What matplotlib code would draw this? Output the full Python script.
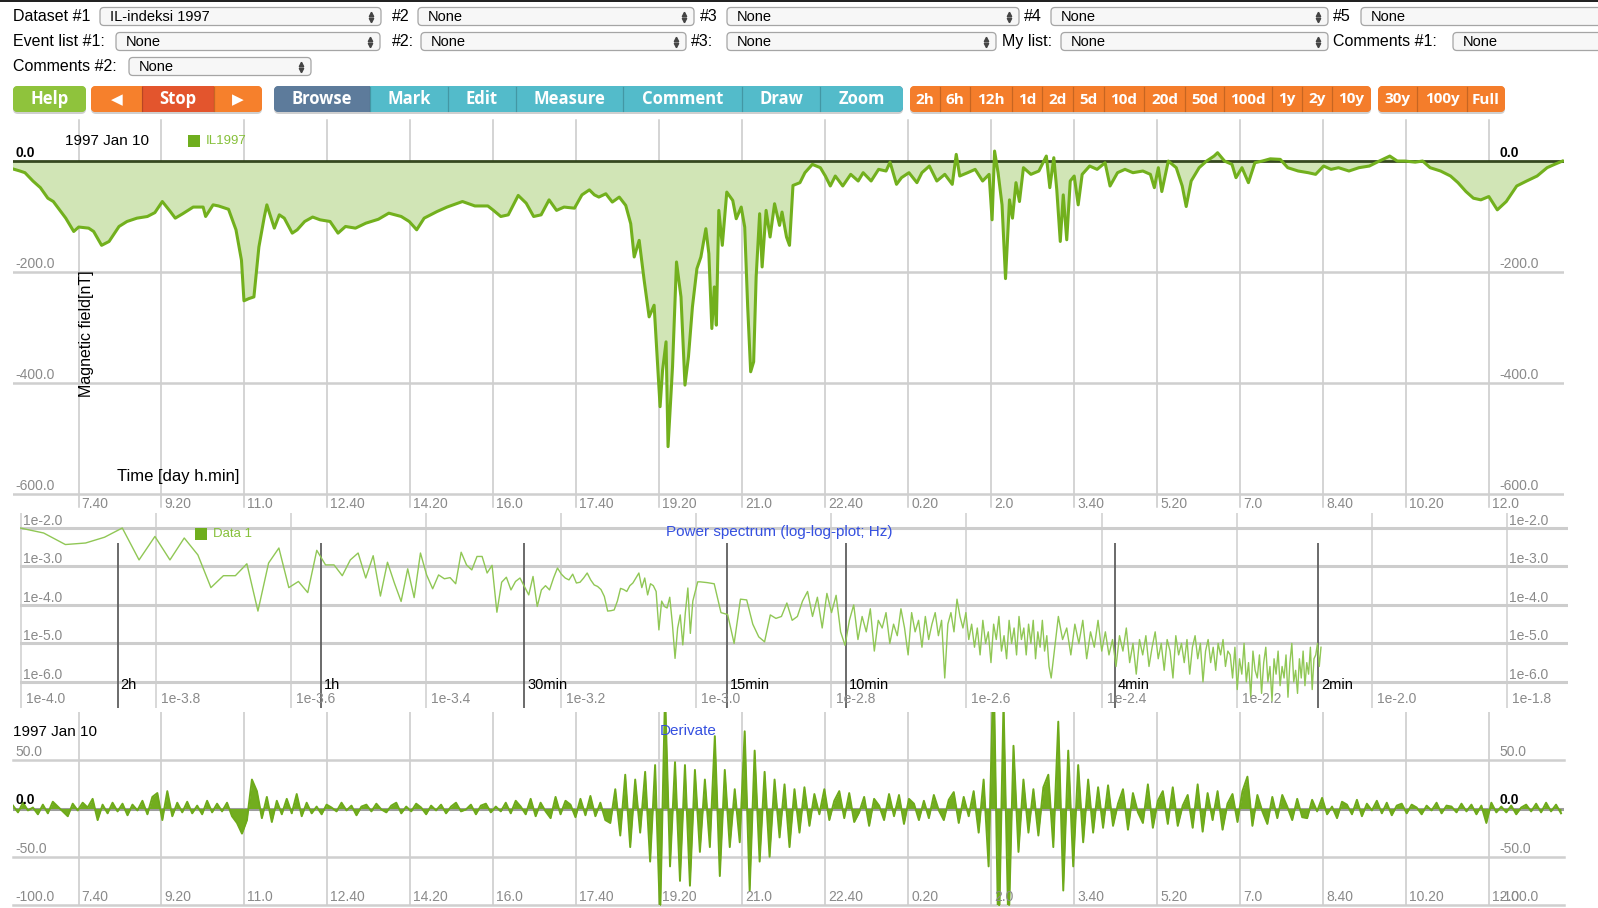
import numpy as np
import matplotlib.pyplot as plt
from matplotlib.patches import FancyBboxPatch, Rectangle

plt.rcParams['font.family'] = ['Liberation Sans', 'DejaVu Sans']

# ---- magnetic field (IL index), hours from 1997 Jan 10 00:00 ----
t_hours = [6.34, 6.49, 6.59, 6.75, 6.90, 7.05, 7.16, 7.26, 7.41, 7.57, 7.67, 7.87, 7.97, 8.13, 8.28,
           8.48, 8.64, 8.84, 9.05, 9.20, 9.35, 9.51, 9.61, 9.76, 9.97, 10.17, 10.22, 10.37, 10.48,
           10.68, 10.83, 10.94, 10.99, 11.09, 11.19, 11.29, 11.40, 11.45, 11.60, 11.70, 11.80, 11.96,
           12.06, 12.21, 12.37, 12.52, 12.72, 12.88, 13.03, 13.23, 13.44, 13.69, 13.90, 14.15, 14.31,
           14.46, 14.61, 14.87, 15.07, 15.38, 15.63, 15.89, 15.99, 16.15, 16.30, 16.50, 16.66, 16.81,
           16.96, 17.12, 17.27, 17.42, 17.63, 17.78, 17.93, 18.03, 18.12, 18.26, 18.39, 18.53, 18.66,
           18.76, 18.83, 18.93, 19.03, 19.13, 19.23, 19.35, 19.40, 19.47, 19.51, 19.60, 19.68, 19.77,
           19.85, 19.92, 20.00, 20.09, 20.17, 20.27, 20.33, 20.39, 20.44, 20.48, 20.53, 20.60, 20.69,
           20.81, 20.88, 20.98, 21.05, 21.11, 21.17, 21.23, 21.28, 21.35, 21.40, 21.48, 21.56, 21.65,
           21.75, 21.80, 21.89, 21.95, 22.02, 22.16, 22.26, 22.41, 22.57, 22.67, 22.77, 22.87, 23.02,
           23.18, 23.33, 23.43, 23.59, 23.74, 23.89, 23.97, 24.10, 24.20, 24.35, 24.51, 24.61, 24.76,
           24.91, 25.07, 25.22, 25.30, 25.37, 25.53, 25.68, 25.83, 25.96, 26.02, 26.07, 26.14, 26.22,
           26.29, 26.37, 26.43, 26.50, 26.57, 26.65, 26.80, 26.96, 27.11, 27.18, 27.26, 27.32, 27.39,
           27.45, 27.52, 27.59, 27.67, 27.75, 27.83, 27.98, 28.13, 28.29, 28.39, 28.54, 28.69, 28.85,
           29.05, 29.20, 29.28, 29.36, 29.43, 29.56, 29.72, 29.84, 29.92, 30.02, 30.18, 30.33, 30.48,
           30.55, 30.69, 30.84, 30.92, 31.04, 31.17, 31.30, 31.45, 31.61, 31.81, 31.96, 32.17, 32.37,
           32.52, 32.68, 32.83, 32.98, 33.19, 33.39, 33.60, 33.80, 34.01, 34.16, 34.31, 34.52, 34.67,
           34.82, 35.03, 35.23, 35.38, 35.54, 35.69, 35.84, 36.00, 36.17, 36.35, 36.56, 36.76, 36.97,
           37.17, 37.32, 37.48]
field_nt = [-14, -18, -21, -36, -48, -67, -73, -85, -103, -127, -119, -121, -127, -152, -145,
            -118, -109, -103, -100, -93, -73, -91, -103, -95, -83, -83, -100, -79, -81,
            -87, -124, -179, -252, -248, -245, -155, -100, -79, -121, -97, -103, -130,
            -124, -109, -101, -106, -109, -130, -118, -121, -112, -105, -94, -100, -109,
            -124, -103, -91, -83, -73, -81, -81, -88, -100, -97, -62, -76, -100,
            -97, -70, -89, -83, -85, -61, -52, -61, -65, -59, -74, -65, -80,
            -113, -173, -143, -215, -281, -260, -443, -377, -326, -515, -371, -182, -245,
            -404, -353, -263, -194, -173, -122, -167, -302, -227, -296, -89, -152, -56,
            -71, -104, -83, -119, -263, -380, -362, -209, -95, -191, -89, -137, -77,
            -116, -92, -137, -152, -44, -39, -21, -6, -12, -27, -45, -27, -45,
            -24, -36, -21, -36, -15, -18, -2, -42, -30, -21, -39, -21, -9,
            -36, -24, -42, 12, -27, -21, -15, -36, -24, -106, 18, -21, -79,
            -212, -70, -103, -39, -73, -12, -24, -18, 9, -48, 6, -52, -145,
            -61, -142, -36, -27, -79, -24, -9, -15, -3, -45, -21, -15, -21,
            -18, -24, -48, -12, -55, 0, -12, -45, -82, -36, -12, 0, 9,
            15, 0, -6, -30, -12, -39, -3, 0, 4, 3, -12, -18, -21,
            -24, -9, -15, -12, -18, -12, -9, 0, 9, 0, 0, -2, 0,
            -12, -18, -27, -39, -55, -67, -70, -64, -88, -73, -45, -36, -27,
            -12, -6, 0]

time_ticks = [7 + 40 / 60, 9 + 20 / 60, 11, 12 + 40 / 60, 14 + 20 / 60, 16, 17 + 40 / 60, 19 + 20 / 60,
              21, 22 + 40 / 60, 24 + 20 / 60, 26, 27 + 40 / 60, 29 + 20 / 60, 31, 32 + 40 / 60,
              34 + 20 / 60, 36]
time_labels = ['7.40', '9.20', '11.0', '12.40', '14.20', '16.0', '17.40', '19.20', '21.0', '22.40',
               '0.20', '2.0', '3.40', '5.20', '7.0', '8.40', '10.20', '12.0']

# ---- derivative, nT per sample, one sample every 0.1 h from 6.35 h ----
deriv_start = 6.35
deriv_step = 0.1
deriv_nt = [3, -4, 6, -2, 1, -6, 4, -5, 7, 2, -3, -8, 5, -2, 6, 1, 10, -12, 4, -5,
            6, -3, 5, -7, 4, -2, 8, -6, 12, 16, -12, 18, -8, 6, -4, 7, -5, 3, -6, 8,
            -4, 5, -3, 6, -8, -15, -26, -12, 30, 18, -10, 12, -14, 8, -6, 10, -5, 15, -8, 6,
            -5, 2, -6, 4, 1, -3, 6, -2, 3, -7, 2, 4, -3, 5, -1, -4, 3, 6, -5, 2,
            -3, 5, 1, -6, 3, -2, 4, -5, 2, 6, -3, -1, 4, -6, 3, 5, -4, 2, -3, 6,
            -5, 8, 2, -6, 10, -8, 6, -3, -10, 12, -6, 8, 4, -9, 10, -7, 13, -8, 6, -12,
            -15, 20, -28, 35, -40, 30, -25, 38, -55, 45, -115, 120, -60, 48, -75, 45, -80, 40, -45, 30,
            -40, 75, -70, 40, -40, 20, -35, 80, -85, 60, -55, 38, -50, 30, -30, 25, -40, 20, -25, 22,
            -18, 15, -6, 20, -12, 8, 18, -10, 16, -14, -4, 12, -18, 10, 3, -12, 15, -8, 14, -16,
            10, 5, -12, 8, -10, 14, -2, -12, 9, 17, -15, 12, -8, 18, -25, 30, -60, 150, -150, 110,
            -130, 65, -45, 30, -25, 20, -28, 22, 35, -40, 90, -85, 60, -60, 45, -35, 30, -25, 22, -20,
            24, -18, 5, 20, -22, 16, -4, -15, 25, -20, 8, 18, -16, 22, -18, 3, 14, -20, 25, -24,
            16, -12, 18, -22, 5, 15, -14, 18, 33, -18, 14, -3, -16, 12, -10, 14, 2, -12, 10, -9,
            -10, 9, -3, 11, -6, 2, -10, 7, 4, -6, 9, -8, 5, -2, 8, -5, 6, -7, 3, 5,
            -5, 4, 1, -6, 3, -2, 6, -5, 3, 2, -4, 5, -3, 4, -6, 3, -15, 6, -4, 2,
            -4, 3, -6, 1, 4, -3, 5, -4, 6, -3, 4, -5]

# ---- power spectrum: log10 power per FFT bin ----
spec_df = 8.3e-6            # Hz per bin
low_first_bin, low_step = 12, 1
psd_low = [-2.00, -2.13, -2.43, -2.39, -2.24, -2.00, -2.83, -2.22, -2.83, -2.26,
           -2.70, -3.55, -3.24, -3.24, -2.93, -4.16, -2.91, -2.52, -3.55, -3.39,
           -3.68, -2.58, -2.96, -2.96, -3.24, -2.83, -2.65, -3.30, -2.72, -3.77,
           -2.89, -3.43, -3.91, -3.06, -3.81, -2.65, -3.22, -3.58, -3.22, -3.32,
           -3.29, -3.45, -2.63, -2.96, -3.09, -2.74, -2.74, -3.17, -2.97, -4.19,
           -3.41, -3.28, -3.61, -3.39, -3.30, -3.52, -3.74, -3.26, -4.04, -3.61,
           -3.50, -3.61, -3.30, -3.04, -3.20, -3.30, -3.35, -3.20, -3.43, -3.41,
           -3.30, -3.17, -3.35, -3.48, -3.52, -3.60, -3.78, -4.16, -4.15, -4.13,
           -3.90, -3.57, -3.60, -3.65, -3.50, -3.43, -3.30, -3.17,
           -3.55, -3.30, -3.74, -3.45, -3.50, -3.65, -4.65, -3.90, -4.04, -4.08,
           -3.80, -4.50, -5.39, -4.60, -4.26, -5.04, -4.20, -3.56, -4.74, -3.90, -3.65, -3.40]
mid_first_bin, mid_step = 122, 3
psd_mid = [-3.40, -3.42, -3.45, -4.20, -4.25, -5.00, -3.85, -3.87, -4.50, -4.83, -4.96, -4.26,
           -4.35, -4.30, -3.95, -4.40, -4.30,
           -3.90, -3.65, -4.30, -3.80, -4.60, -3.70, -4.20, -3.75, -4.70, -5.05,
           -4.4, -4.0, -4.9, -4.3, -4.7, -4.1, -5.2, -4.4, -4.6, -4.2, -5.0, -4.5, -4.8, -4.1, -4.6,
           -5.3, -4.2, -4.7, -4.4, -5.1, -4.3, -4.9, -4.5, -4.2, -4.8, -4.4, -5.9, -4.5, -4.2, -4.7,
           -3.85, -4.3, -4.6, -4.2, -4.9,
           -4.5, -5.1, -4.6, -5.3, -4.4, -5.0, -4.7, -5.5, -4.5, -4.9, -4.3, -5.2, -4.8, -5.4, -4.4,
           -5.0, -4.6, -5.3, -4.3, -4.9, -4.6, -5.3, -4.5, -5.0, -4.4, -5.4, -4.7, -5.1, -4.4, -5.2,
           -4.8, -5.6, -5.9]
high_first_bin, high_step = 414, 6
psd_high = [-4.3, -4.9, -4.6, -5.3, -4.5, -5.0, -4.4, -5.4, -4.7, -5.1, -4.4, -5.2,
            -4.7, -5.3, -4.9, -5.6, -4.8, -5.2, -4.6, -5.5, -5.0, -5.8, -4.9, -5.3, -4.8, -5.6, -5.1,
            -4.7, -5.4, -5.0, -5.7, -4.9, -5.2, -5.9, -4.8, -5.3, -5.0, -5.5, -4.9, -5.8, -5.1, -4.8,
            -5.4, -5.0, -6.0, -5.2, -4.9, -5.5, -5.1, -5.7, -5.0, -5.3, -4.9, -5.6, -5.2,
            -5.3, -5.9, -5.1, -6.2, -5.4, -5.8, -5.0, -6.0, -5.5, -6.4, -5.2, -5.7, -5.9, -5.3, -6.3,
            -5.5, -5.1, -6.0, -5.6, -6.5, -5.4, -5.8, -5.2, -6.1, -5.6, -5.9, -5.3, -6.4, -5.5, -5.0,
            -6.0, -5.7, -6.3, -5.4, -5.9, -5.2, -6.1, -5.5, -5.8, -5.1, -6.2, -5.4, -5.3, -5.0, -5.6,
            -5.1]

period_labels = ['2h', '1h', '30min', '15min', '10min', '4min', '2min']
period_seconds = [7200, 3600, 1800, 900, 600, 240, 120]
spec_xexp = [-4.0, -3.8, -3.6, -3.4, -3.2, -3.0, -2.8, -2.6, -2.4, -2.2, -2.0, -1.8]
spec_yexp = [-2.0, -3.0, -4.0, -5.0, -6.0]

W, H = 1598, 908
fig = plt.figure(figsize=(W / 100, H / 100), dpi=100)
fig.patch.set_facecolor('white')

GRAY_TXT = '#8a8a8a'
GRID = '#c9c9c9'


def px_axes(x0, y0, x1, y1):
    a = fig.add_axes([x0 / W, 1 - y1 / H, (x1 - x0) / W, (y1 - y0) / H])
    for s in a.spines.values():
        s.set_visible(False)
    a.set_xticks([])
    a.set_yticks([])
    a.patch.set_alpha(0)
    return a


def ylabel_pair(a, val, text, xright, bold=False, dy=1):
    kw = dict(fontsize=10, va='bottom', ha='left',
              color='black' if bold else GRAY_TXT, fontweight='bold' if bold else 'normal')
    a.annotate(text, (0, val), xycoords=('axes fraction', 'data'), xytext=(2, dy),
               textcoords='offset pixels', **kw)
    a.annotate(text, (xright, val), xycoords='data', xytext=(11, dy),
               textcoords='offset pixels', **kw)


# ---------------- main magnetic field panel ----------------
xlim = (6.35, 37.51)
ax = px_axes(13, 120, 1564, 496)
ax.set_xlim(*xlim)
ax.set_ylim(-604, 74)
for t in time_ticks:
    ax.axvline(t, ymin=-0.03, ymax=1, color=GRID, lw=1.1, clip_on=False, zorder=0)
for y in [-200, -400, -600]:
    ax.axhline(y, color='#cfcfcf', lw=1.8, zorder=0)
ax.fill_between(t_hours, field_nt, 0, color='#d1e5b6', lw=0, zorder=1)
ax.axhline(0, color='#35481f', lw=2, zorder=2)
ax.plot(t_hours, field_nt, color='#72b01d', lw=2.2, zorder=3)
for t, lbl in zip(time_ticks, time_labels):
    ax.annotate(lbl, (t, 0), xycoords=('data', 'axes fraction'), xytext=(3, -1),
                textcoords='offset pixels', va='top', ha='left', fontsize=10, color=GRAY_TXT)
for val, txt in [(0, '0.0'), (-200, '-200.0'), (-400, '-400.0'), (-600, '-600.0')]:
    ylabel_pair(ax, val, txt, time_ticks[-1], bold=(val == 0))

# ---------------- power spectrum panel ----------------
freq = np.concatenate([(low_first_bin + low_step * np.arange(len(psd_low))) * spec_df,
                       (mid_first_bin + mid_step * np.arange(len(psd_mid))) * spec_df,
                       (high_first_bin + high_step * np.arange(len(psd_high))) * spec_df])
power = 10.0 ** np.array(psd_low + psd_mid + psd_high)

sx = px_axes(20, 513, 1568, 708)
sx.set_xscale('log')
sx.set_yscale('log')
sx.set_xlim(10 ** -4.002, 10 ** -1.709)
sx.set_ylim(10 ** -6.68, 10 ** -1.61)
sx.minorticks_off()
sx.set_xticks([])
sx.set_yticks([])
for e in spec_xexp:
    sx.axvline(10 ** e, color='#d2d2d2', lw=1.2, zorder=0)
    sx.annotate('1e%.1f' % e, (10 ** e, 0), xycoords=('data', 'axes fraction'), xytext=(5, 9),
                textcoords='offset pixels', va='center', ha='left', fontsize=10, color=GRAY_TXT)
for e in spec_yexp:
    sx.axhline(10 ** e, color='#cdcdcd', lw=2.2, zorder=0)
    sx.annotate('1e%.1f' % e, (0, 10 ** e), xycoords=('axes fraction', 'data'), xytext=(3, 0),
                textcoords='offset pixels', va='bottom', ha='left', fontsize=10, color=GRAY_TXT)
    sx.annotate('1e%.1f' % e, (0.962, 10 ** e), xycoords=('axes fraction', 'data'), xytext=(0, 0),
                textcoords='offset pixels', va='bottom', ha='left', fontsize=10, color=GRAY_TXT)
for lbl, sec in zip(period_labels, period_seconds):
    f = 1.0 / sec
    sx.vlines(f, 10 ** -6.68, 10 ** -2.39, color='#5f5f5f', lw=1.3, zorder=1)
    sx.annotate(lbl, (f, 10 ** -6.08), xycoords='data', xytext=(3, 0), textcoords='offset pixels',
                va='center', ha='left', fontsize=10.5, color='black')
sx.plot(freq, power, color='#90c755', lw=1.0, zorder=2)

# ---------------- derivative panel ----------------
deriv_t = deriv_start + deriv_step * np.arange(len(deriv_nt))
dx = px_axes(13, 712, 1564, 905)
dx.set_xlim(*xlim)
dx.set_ylim(-100, 100)
for t in time_ticks:
    dx.axvline(t, color=GRID, lw=1.1, zorder=0)
for y in [50, -50, -100]:
    dx.axhline(y, color='#cfcfcf', lw=1.8, zorder=0, clip_on=False)
dx.axhline(0, color='#9c9c9c', lw=2.2, zorder=1)
dx.fill_between(deriv_t, deriv_nt, 0, color='#72ad1f', lw=0, zorder=2)
dx.plot(deriv_t, deriv_nt, color='#6eaa1a', lw=1.4, zorder=2)
for t, lbl in zip(time_ticks, time_labels):
    dx.annotate(lbl, (t, 0), xycoords=('data', 'axes fraction'), xytext=(3, 1),
                textcoords='offset pixels', va='bottom', ha='left', fontsize=10, color=GRAY_TXT)
for val, txt in [(50, '50.0'), (0, '0.0'), (-50, '-50.0'), (-100, '-100.0')]:
    ylabel_pair(dx, val, txt, time_ticks[-1], bold=(val == 0))

# ---------------- page furniture in pixel coordinates ----------------
ui = fig.add_axes([0, 0, 1, 1], zorder=5)
ui.set_xlim(0, W)
ui.set_ylim(H, 0)
ui.axis('off')
ui.patch.set_alpha(0)

ui.add_patch(Rectangle((0, 0), W, 2, fc='#222222', ec='none'))

# chart annotations
ui.text(65, 141, '1997 Jan 10', fontsize=11, va='center', ha='left')
ui.add_patch(Rectangle((188, 135), 12, 12, fc='#6fae1e', ec='none'))
ui.text(206, 141, 'IL1997', fontsize=9.5, va='center', ha='left', color='#86c03a')
ui.text(86, 334, 'Magnetic field[nT]', fontsize=11.5, rotation=90, va='center', ha='center')
ui.text(117, 477, 'Time [day h.min]', fontsize=12, va='center', ha='left')

ui.add_patch(Rectangle((195, 528), 12, 12, fc='#6fae1e', ec='none'))
ui.text(213, 534, 'Data 1', fontsize=9.5, va='center', ha='left', color='#86c03a')
ui.text(666, 532, 'Power spectrum (log-log-plot; Hz)', fontsize=11, va='center', ha='left',
        color='#3550e0')

ui.text(13, 732, '1997 Jan 10', fontsize=11, va='center', ha='left')
ui.text(660, 731, 'Derivate', fontsize=11, va='center', ha='left', color='#3550e0')

# selection boxes
rows = [
    (16.5, [('Dataset #1', 13, 100, 381, 'IL-indeksi 1997'), ('#2', 392, 418, 694, 'None'),
            ('#3', 700, 727, 1019, 'None'), ('#4', 1024, 1051, 1328, 'None'),
            ('#5', 1333, 1361, 1620, 'None')]),
    (41.5, [('Event list #1:', 13, 116, 380, 'None'), ('#2:', 392, 421, 686, 'None'),
            ('#3:', 691, 727, 996, 'None'), ('My list:', 1002, 1061, 1328, 'None'),
            ('Comments #1:', 1333, 1453, 1620, 'None')]),
    (66.5, [('Comments #2:', 13, 129, 311, 'None')]),
]
for yc, items in rows:
    for label, lx, bx0, bx1, value in items:
        ui.text(lx, yc, label, fontsize=11.5, va='center', ha='left')
        box = FancyBboxPatch((bx0, yc - 9), bx1 - bx0, 18,
                             boxstyle='round,pad=0,rounding_size=4',
                             fc='#f7f7f7', ec='#a5a5a5', lw=0.9, clip_on=False)
        ui.add_patch(box)
        ui.text(bx0 + 10, yc + 0.5, value, fontsize=10.5, va='center', ha='left')
        if bx1 < W:
            ui.plot([bx1 - 10], [yc - 3], marker='^', ms=3.2, color='#444444')
            ui.plot([bx1 - 10], [yc + 3.5], marker='v', ms=3.2, color='#444444')

# buttons
groups = [
    [('Help', 13, 86, '#8fc33c')],
    [('\u25c0', 91, 142, '#f6802c'), ('Stop', 142, 214, '#e3552d'), ('\u25b6', 214, 262, '#f6802c')],
    [('Browse', 274, 370, '#5d7b9b'), ('Mark', 370, 448, '#53bbca'), ('Edit', 448, 516, '#53bbca'),
     ('Measure', 516, 623, '#53bbca'), ('Comment', 623, 742, '#53bbca'),
     ('Draw', 742, 820, '#53bbca'), ('Zoom', 820, 903, '#53bbca')],
    [('2h', 910, 940, '#f47d2b'), ('6h', 940, 970, '#f47d2b'), ('12h', 970, 1012, '#f47d2b'),
     ('1d', 1012, 1042, '#f47d2b'), ('2d', 1042, 1073, '#f47d2b'), ('5d', 1073, 1104, '#f47d2b'),
     ('10d', 1104, 1144, '#f47d2b'), ('20d', 1144, 1185, '#f47d2b'), ('50d', 1185, 1224, '#f47d2b'),
     ('100d', 1224, 1272, '#f47d2b'), ('1y', 1272, 1302, '#f47d2b'), ('2y', 1302, 1332, '#f47d2b'),
     ('10y', 1332, 1371, '#f47d2b')],
    [('30y', 1378, 1417, '#f47d2b'), ('100y', 1417, 1467, '#f47d2b'), ('Full', 1467, 1505, '#f47d2b')],
]
by0, by1 = 86, 112
for gi, segs in enumerate(groups):
    gx0, gx1 = segs[0][1], segs[-1][2]
    ui.add_patch(FancyBboxPatch((gx0, by0 + 2), gx1 - gx0, by1 - by0,
                                boxstyle='round,pad=0,rounding_size=5', fc='#b0b0b0', ec='none',
                                alpha=0.6))
    body = FancyBboxPatch((gx0, by0), gx1 - gx0, by1 - by0,
                          boxstyle='round,pad=0,rounding_size=5', fc=segs[0][3], ec='none')
    ui.add_patch(body)
    small = gi >= 3
    for k, (lbl, a, b, col) in enumerate(segs):
        r = Rectangle((a, by0), b - a, by1 - by0, fc=col, ec='none')
        ui.add_patch(r)
        r.set_clip_path(body)
        if k < len(segs) - 1:
            ui.plot([b, b], [by0 + 1, by1 - 1], color='#00000030', lw=0.9)
        fam = ['DejaVu Sans'] if lbl in ('\u25c0', '\u25b6') else ['Open Sans', 'DejaVu Sans']
        ui.text((a + b) / 2, (by0 + by1) / 2 + 0.5, lbl, family=fam, fontweight='bold',
                fontsize=(11 if small else 12) if lbl not in ('\u25c0', '\u25b6') else 11,
                color='white', va='center', ha='center')

fig.savefig('out.png', dpi=100, facecolor='white')
